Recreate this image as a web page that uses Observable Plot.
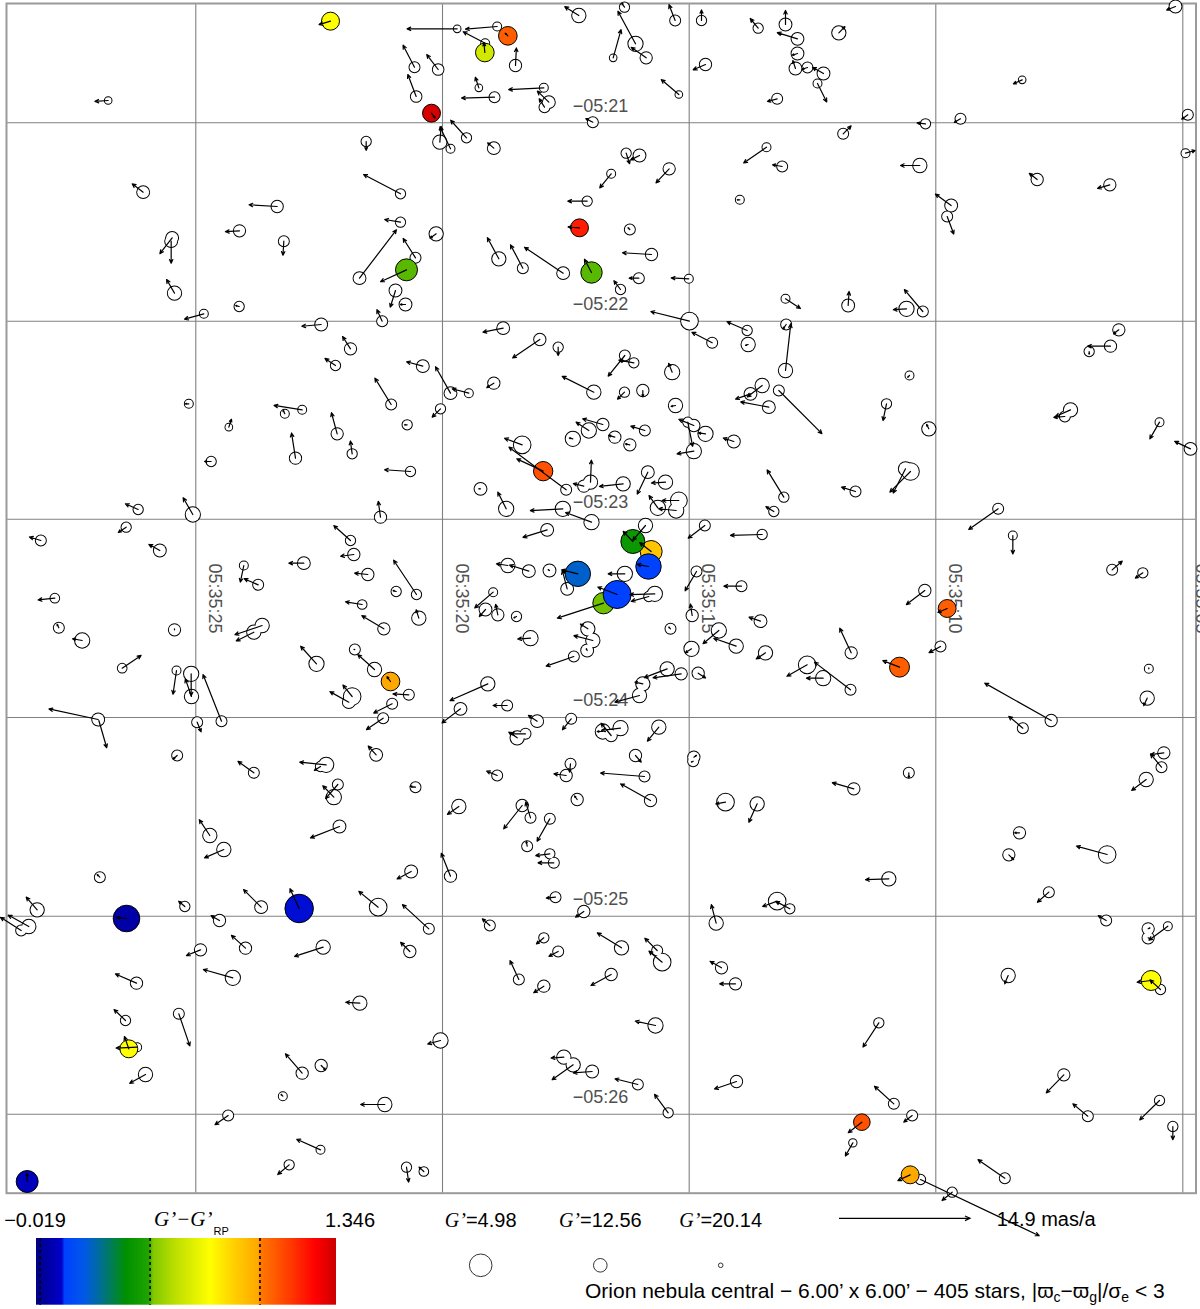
<!DOCTYPE html>
<html><head><meta charset="utf-8">
<script src="https://cdn.jsdelivr.net/npm/d3@7"></script>
<script src="https://cdn.jsdelivr.net/npm/@observablehq/plot@0.6"></script>
<style>
html,body{margin:0;padding:0;background:#fff;overflow:hidden;}
#wrap{position:relative;width:1200px;height:1309px;font-family:"Liberation Sans",Arial,sans-serif;}
#chart{position:absolute;left:0;top:0;z-index:2;}
#chart svg{display:block;}
#legend{position:absolute;left:0;top:1195px;z-index:1;}
</style></head><body>
<div id="wrap"><div id="chart"></div><svg id="legend" width="1200" height="114"></svg></div>
<script>
// Grid: offsets (arcsec from field centre) of RA / Dec lines, and their labels
const raGrid = [-121.41, -47.4, 26.61, 100.59, 174.69];
const raLabels = ["05:35:25", "05:35:20", "05:35:15", "05:35:10", "05:35:05"];
const decGrid = [142.71, 83.19, 23.79, -35.7, -95.31, -154.71];
const decLabels = ["−05:21", "−05:22", "−05:23", "−05:24", "−05:25", "−05:26"];

// Stars without colour: [xi (arcsec), eta (arcsec), pmRA (mas/a), pmDec (mas/a), G']
const whiteStars = [
[-147.7,149.4,-1.5,-0.1,18.4],[-70.3,137.1,0,-1.0,16.2],[-60,121.4,-4.2,2.2,16.2],[-60,112.9,-1.8,0.3,16.2],
[-72.3,96.1,4.2,5.5,14],[-61.5,92.4,-0.6,-1.9,14],[-65.5,83.2,-0.6,1.3,15.6],[-83.8,82.2,-2.2,-0.2,14],
[-75,74.9,-0.9,1.4,14.5],[-79.5,69.9,-1.2,0.8,16.2],[-97,117.6,-3.2,0.2,14.5],[-108.3,110.3,-1.6,-0.1,14.5],
[-95,107.2,-0.1,-1.6,15.6],[-128.5,108.2,-1.4,-1.8,14],[-128.8,107.2,0,-2.5,14],[-137.2,121.9,-1.25,0.95,14],
[-127.8,91.6,-0.9,1.55,12.8],[-119,85.4,-2.2,-0.6,17.3],[-108.4,87.6,-0.4,0.1,16.2],
[-43,170.9,-5.7,0,18.4],[-31,171.6,-3.6,-0.3,17.3],[-34.6,166.6,-2.5,1.3,17.3],[-6.5,174.9,-1.6,1.0,12.8],
[7.2,177.4,-0.3,0.45,16.2],[10.5,166.4,-2.0,3.7,12],[3.8,162.2,0.9,3.2,18.4],[13.7,162.2,-1.7,1.2,14.5],
[22.4,173.4,-0.7,1.8,15.6],[30.3,173.4,0,1.2,16.2],[47.3,171.1,-0.9,1.1,16.2],[55.5,172.2,0,1.6,14],
[59.1,167.9,-2.3,0.7,14],[59.1,163.5,-0.6,-0.2,14],[58.5,159,-0.3,0.9,14],[62.1,159.3,-0.6,-0.2,15.6],
[66.9,157.5,-1.25,0.7,14],[65.1,154.5,1.05,-2.1,17.3],[53,149.9,-1.1,-0.3,15.6],[23.5,151.2,-2.0,1.7,18.4],
[-17,153.2,-4.0,-0.2,17.3],[-15.5,148.9,-1.3,1.25,14],[-16.8,147.4,-0.6,0.95,15.6],[-25.5,159.9,0.1,2.0,14.5],
[-36.5,153.2,-0.4,1.2,18.4],[-31.8,150.4,-3.75,-0.1,15.6],[-55.8,159.4,-1.3,2.5,15.6],[-48.7,158.7,-1.3,1.7,15.1],
[-55.3,150.6,-0.95,2.5,15.1],[-48.2,136.9,0.15,1.8,12.8],[-45,134.9,-1.2,2.5,17.3],[-40.2,138.2,-1.8,2.0,16.2],
[-32,135.1,-0.7,0.6,14],[-2.3,142.9,-0.8,0.4,15.6],[7.7,133.6,0.4,-1.2,16.2],[11.7,132.9,-1.0,-0.5,14],
[3.2,127.4,-1.3,-1.6,17.3],[20.6,128.9,-1.5,-1.6,14.5],[-4,119.2,-2.2,0,16.2],[8.8,110.7,-0.2,0.2,15.6],
[15.3,103.2,-3.3,0.2,14.5],[11.5,96.1,-1.1,0,15.6],[26.5,95.9,-2.0,0.1,17.3],[49.8,135.4,-2.6,-1.8,17.3],
[54.5,129.6,-1.1,0.2,15.6],[41.8,119.6,-0.3,0,17.3],[55.5,89.9,1.7,-1.1,17.3],[-49.3,109.4,-0.7,-0.5,12.8],
[-55.5,102.2,-1.4,2.2,15.6],[-58.5,88.2,-0.6,0,14],[-30.5,101.9,-1.3,2.4,12.8],[-23.3,99.1,-1.4,2.65,15.6],
[-11.2,97.6,-4.4,2.95,14],[6,92.7,-0.75,1.0,16.2],[26.7,83.2,-4.4,1.1,10],[-29.2,81.1,-2.3,-0.45,14],
[-18.2,77.7,-3.1,-2.1,14.5],[-12.7,75.4,0,-0.95,16.2],[-53.3,69.7,-1.85,0.5,14],[-45,61.6,-1.7,3.0,14],
[-39.5,61.6,-1.9,0.5,17.3],[-32,64.6,-0.8,-0.5,14.5],[7.3,72.9,-1.9,-2.35,15.6],[10,70.7,-1.7,0.3,16.2],
[21.5,67.9,-0.4,1.0,12],[44,80.4,-2.3,1.0,16.2],[33.5,76.7,-2.3,1.2,15.6],[44.3,76.2,-0.3,-0.1,12.8],
[55.5,68.4,0.6,5.3,12.8],[55.7,82.2,-0.35,-0.5,15.6],[-2,61.9,-3.6,1.8,12.8],[7.2,61.9,-0.8,-0.8,16.2],
[12.7,62.4,0,-0.7,14.5],[48.5,63.9,-1.7,-1.3,12.8],[45,61.4,-1.7,-0.6,14],[53.5,62.4,4.9,-4.9,15.6],
[31.5,160.2,-1.4,-0.6,14.5],
[71.5,169.7,0.7,0.7,12.8],[126.5,155.6,-1.0,-0.45,18.4],[172.5,177.6,-1.0,-0.4,14],[108,143.9,-0.7,-0.4,15.6],
[97.5,142.4,-0.95,0.1,16.2],[176.2,145.1,-0.7,-0.5,15.6],[72.8,139.4,0.9,0.9,15.6],[175.5,133.6,1.1,0.3,17.3],
[95.8,129.9,-2.2,0,12.8],[131,125.7,-0.9,0.7,14.5],[152.8,124.1,-1.4,-0.4,14.5],[105.2,117.9,-1.8,1.3,14],
[104,114.6,0.75,-2.0,15.6],[74.3,87.9,0.1,1.6,14],[91.8,86.9,-1.5,-0.1,12],[96.7,86.1,-2.1,2.5,15.6],
[155.5,80.6,-0.6,-0.45,14.5],[153,75.7,-2.6,0,14.5],[146.6,74.1,0,-0.3,16.2],[92.7,66.9,-0.2,-0.2,17.3],
[-123.5,58.4,-0.4,0,17.3],[-89.5,56.6,-3.2,0.5,17.3],[-94.7,55.4,-0.2,0.4,17.3],[-62.8,58.2,-1.85,3.0,15.6],
[-111.5,51.4,0.3,0.9,18.4],[-79,49.4,-0.65,2.4,14.5],[-91.5,42.1,-0.45,2.85,14.5],[-74.5,43.4,-0.2,1.45,16.2],
[-116.8,41.1,-0.75,0,16.2],[-138.7,26.7,-1.45,0.65,16.2],[-122.3,25.2,-1.1,1.9,12],[-66,24.4,-0.25,1.8,14.5],
[-142.3,21.4,-0.9,-0.6,16.2],[-167.9,17.4,-1.3,0.4,15.6],[-132.2,14.4,-1.25,0.7,14],[-75,17.4,-1.9,1.7,16.2],
[-74,13.2,-1.5,-0.2,14.5],[-89,10.6,-1.7,0,14],[-69.8,7.2,-1.5,0.15,14.5],[-61.3,2.1,-0.35,0.1,16.2],
[-107,9.9,-0.4,-1.9,17.3],[-102.7,4.1,-1.6,0.7,15.6],[-163.7,0.1,-1.9,-0.2,16.7],[-71.5,-1.8,-1.9,0.3,16.7],
[-65,-9.1,-2.5,1.5,14.5],[-162.5,-8.8,-0.2,0.4,15.6],[-155.5,-12.6,-1.1,0.2,12],[-127.8,-9.4,0,0.1,14.5],
[-101.5,-8.1,-3.1,-1.05,12.8],[-104,-10.1,-2.0,-1.0,12.8],[-143.5,-20.9,2.15,1.45,16.7],[-127.2,-21.6,-0.4,-2.7,17.3],
[-122.8,-22.6,0,-2.5,12],[-122.7,-29.4,-0.7,2.0,12.8],[-113.7,-36.8,-2.1,5.3,15.6],[-150.7,-36.3,-5.6,1.2,14],
[-150.5,-36.6,0.9,-3.1,16.2],[-121,-37.1,0.45,-1.1,15.6],[-85.2,-19.6,-1.8,2.0,12],[-73.7,-15.3,-0.1,0,15.6],
[-67.8,-21.3,-1.9,1.7,12.8],[-74.5,-29.4,-1.05,1.3,10],[-75.5,-31.1,-2.15,1.2,14],[-62.5,-31.6,-2.1,-1.05,15.6],
[-65.2,-35.9,-1.9,-1.3,15.6],[-127,-47.1,-0.45,-0.4,15.6],[-104,-52.3,-1.8,1.3,15.6],[-82.3,-49.9,-3.0,0.3,12],
[-84,-50.4,-0.7,-0.45,16.2],[-67.3,-46.9,-0.9,1.0,14],[-78.8,-55.8,-1.4,-1.6,15.6],[-80,-59.6,-1.25,1.3,12],
[-48,56.9,-0.95,-0.95,16.2],[-58,52.1,-0.3,0,16.2],[-57,38.1,-2.95,0.2,16.2],[-55.2,1.2,-2.6,3.9,16.2],
[-54.5,-5.9,-0.3,0.95,12.8],[-57.5,-28.9,-1.8,0.1,15.6],[-55.5,-56.6,-0.6,0.1,15.6],[22.5,57.9,-0.5,-0.1,12.8],
[50.5,57.4,-3.2,0.6,14],[-23.5,46.1,-2.0,0.75,10],[-10.3,32.6,-6.5,4.85,15.6],[-36,32.9,-0.2,0,14],
[-28.3,26.9,-0.95,1.9,12],[-11.3,26.9,-3.7,-0.2,12],[-2.7,22.9,-2.95,1.1,12],[-16,20.6,-2.75,-0.85,14],
[-8.3,47.9,-0.4,0.1,12],[-3.5,50.4,-1.45,0.95,12],[0.7,52.2,-2.3,0.65,14.5],[4.3,48.4,-0.7,0.2,14.5],
[8.8,46.1,-0.5,0.1,14.5],[13.3,50.4,-1.6,0.5,15.6],[-3,34.9,0.1,2.5,12.8],[-5,33.7,-1.2,0.3,14.5],
[6.8,34.4,-2.7,-0.3,12.8],[14.2,37.9,-1.2,-2.5,14],[19.5,34.9,-1.6,-0.1,12.8],[23.5,29.4,-1.9,0,10.6],
[22.7,26.4,-2.0,0.2,12],[17.2,27.2,-1.0,1.4,12],[28,51.9,-1.7,0.7,14.5],[31.5,49.4,-0.8,0.1,12],
[28,44.2,-1.9,-0.3,12],[26.2,52.9,0.55,-2.75,16.2],[40,47.1,-1.2,0.4,14],[55,30.4,-1.9,3.1,16.2],
[52,26.1,-0.9,0.55,16.2],[31.3,21.9,-1.9,-1.45,15.6],[48.5,19.2,-3.6,-0.1,16.2],[13.5,21.9,-1.45,-1.7,12.8],
[-15.3,8.4,-0.15,0.1,14],[-21.5,8.2,-2.2,0.7,14],[-27.8,9.9,-1.3,0.2,12.8],[-10,2.9,-0.55,2.1,14],
[7.3,7.4,-1.9,0,12],[16.3,1.4,-2.85,-0.1,12],[14.5,0.6,-2.0,-0.55,16.2],[28.8,8.1,-1.3,-2.2,15.6],
[42.3,3.7,-2.0,0,15.6],[-32.2,1.9,-2.1,-1.8,17.3],[-34.5,-3.3,-0.7,-0.8,14],[-30.8,-4.9,-0.25,1.2,14.5],
[-25.2,-5.4,-0.3,-0.15,16.2],[-21,-11.9,-1.45,-0.1,12],[-8,-17.4,-3.15,-1.1,15.6],[-3.8,-9.1,-0.85,0.55,12.8],
[-2.3,-12.6,-2.15,0.55,12.8],[-4,-15.6,-0.1,0.2,14],[21,-9.1,-0.2,0.2,15.6],[27.5,-5.1,-0.2,1.3,14.5],
[35.5,-9.6,-1.8,-1.5,12],[40.7,-14.3,-2.55,0.9,12.8],[48,-6.8,-1.3,0.45,14],[27.3,-15.1,-0.7,-0.45,12],
[49.5,-16.3,-1.05,-0.7,12.8],[20,-21.1,-2.6,-1.0,12.8],[24.2,-22.6,-3.2,-0.45,14.5],[29.3,-22.4,0.85,-0.55,14.5],
[12.7,-25.6,-0.9,0.2,12.8],[11.7,-29.1,-2.8,-0.75,12.8],[-33.8,-25.6,-4.3,-1.9,12.8],[-42,-33.1,-2.1,-1.6,14],
[-28,-32.1,-1.6,0,15.6],[-19,-36.8,-1.0,0.65,14],[-8.8,-36.1,-1.0,-1.25,15.6],[0.7,-39.9,-0.65,0,12],
[6,-38.9,-2.15,-0.25,12],[3.2,-41.1,-1.15,1.4,14.5],[17.5,-38.6,-1.3,-1.6,12.8],[-25,-41.8,-0.95,0.65,12.8],
[-22.5,-40.6,-1.7,0,15.6],[10.5,-47.1,0.65,-0.75,14.5],[28,-47.6,0.3,0.2,14.5],[27.8,-48.8,-0.2,-0.1,15.6],
[-9,-49.6,-0.1,-0.95,15.6],[-10.3,-53.1,-1.4,0.2,14.5],[-31,-53.1,-1.2,0.5,15.6],[13.2,-53.4,-5.0,0.4,15.6],
[85.8,58.4,-0.4,-1.9,16.2],[98.5,50.9,-0.25,0.5,12.8],[141,56.6,-1.7,-0.75,12.8],[139.3,54.6,-1.25,-0.1,15.6],
[167.7,52.9,-1.1,-1.9,17.3],[177,44.9,-1.8,0.85,14],[93,38.1,-2.35,-2.35,10],[91.5,38.9,-1.4,-2.75,12.8],
[76.5,32.1,-1.6,0.5,15.6],[119.3,26.9,-3.35,-2.35,15.6],[123.7,18.9,0,-2.1,17.3],[153.5,8.6,1.15,1.0,15.6],
[162.7,7.7,-0.85,-0.6,16.2],[97.3,2.4,-2.1,-1.6,14.5],[102,-14.4,-1.3,-0.7,15.6],[75.2,-16.3,-1.3,2.8,14.5],
[62,-19.9,-2.3,-1.3,10],[66.8,-23.9,-1.9,0,12],[75,-27.4,-4.1,3.15,15.6],[164.5,-21.1,0,0.1,17.3],
[164,-29.9,-0.4,-0.85,12.8],[135.2,-36.6,-7.55,4.25,14.5],[126.7,-38.9,-1.6,1.35,15.6],[92.5,-52.3,0,-0.55,15.6],
[76,-57.1,-2.45,0.7,14.5],[169,-46.3,-1.5,-0.2,14.5],[168.3,-50.6,-1.25,1.5,15.6],[163.7,-54.3,-1.65,-1.25,12.8],
[-78.3,-68.4,-3.3,-1.3,14],[-117.2,-71.1,-1.2,1.8,12.8],[-113,-75.3,-2.2,-0.95,12.8],[-150.2,-83.6,-0.3,0.3,15.6],
[-169,-93.4,-1.25,1.45,12.8],[-171.5,-98.4,-2.35,1.3,12.8],[-173.8,-99.6,-2.35,1.5,15.6],[-124.7,-92.4,-0.7,0.6,16.2],
[-101.8,-92.6,-2.0,2.0,14],[-66.7,-92.6,-2.2,1.8,10],[-114.3,-96.6,-0.95,0.55,14.5],[-106.5,-104.9,-1.6,1.45,14.5],
[-120,-105.4,-1.6,-0.65,14.5],[-83.2,-104.6,-3.25,-1.05,12.8],[-139.2,-115.4,-2.4,1.05,14.5],[-110.3,-113.8,-3.35,0.95,12],
[-72.2,-121.4,-1.6,0.1,12.8],[-142.5,-126.6,-1.3,1.25,16.2],[-126.5,-124.6,1.25,-3.65,15.6],[-139,-134.6,-2.4,-0.1,17.3],
[-136.5,-142.8,-1.8,-1.0,12.8],[-89.5,-142.4,-1.9,2.2,14.5],[-83.8,-140.1,0.5,-0.5,14.5],[-95.3,-149.3,-0.2,0.2,17.3],
[-64.7,-151.8,-2.75,0,12.8],[-111.7,-155.1,-1.5,-1.05,15.6],[-84,-165.4,-2.7,1.2,17.3],[-93.4,-169.9,-1.3,-1.1,16.2],
[-42.5,-62.4,-1.3,-0.9,12.8],[-23.5,-62.1,-2.1,-2.65,14.5],[-21,-65.8,-0.55,1.8,15.6],[-15.2,-66.1,-1.45,-2.55,15.6],
[-7,-60.3,-0.3,0.4,14.5],[15,-60.6,-3.4,1.9,14.5],[37.5,-61.1,-1.1,-0.2,10],[47,-61.6,-0.95,-2.1,12.8],
[-22,-74.3,-0.1,0.55,15.6],[-15.2,-76.6,-1.6,-0.2,16.2],[-14,-79.3,-1.8,0,15.6],[-56.8,-81.9,-1.6,-0.85,14],
[-45,-83.3,-1.05,2.6,14.5],[-13.5,-89.6,-1.05,-0.1,15.6],[-5,-93.9,-0.95,-0.65,14.5],[-51.5,-99.1,-3.0,2.75,15.6],
[-33.2,-98.1,-0.85,0.75,15.6],[-57.2,-105.9,-1.05,1.05,14.5],[-17,-101.8,-0.85,-0.7,16.2],[-12.7,-105.9,-1.05,-0.55,15.6],
[6.3,-104.8,-2.75,1.7,12.8],[17,-105.6,-1.4,1.4,15.6],[18.5,-109.1,-1.5,1.25,10],[-24.5,-114.3,-1.0,2.15,15.6],
[-17,-116.3,-1.15,-0.75,14.5],[3.2,-112.8,-2.3,-1.25,14.5],[34.7,-97.4,-0.55,2.1,12.8],[53,-90.8,-1.65,-0.6,10],
[56.8,-93.1,-1.6,0.85,16.2],[36.3,-110.8,-1.3,0.75,14.5],[40.5,-115.6,-1.8,0,14.5],[16.5,-128.1,-2.3,0.5,12],
[-48,-132.6,-1.45,-0.4,12],[-11,-137.6,-1.45,-0.1,12.8],[-8.2,-139.9,-2.4,-1.7,12.8],[-2.5,-141.9,-2.15,-0.15,14],
[11.2,-145.8,-2.6,0.65,15.6],[20.3,-154.3,-1.55,2.1,16.2],[40.8,-144.9,-2.5,-0.85,14.5],[-58.2,-170.6,0.25,-1.7,16.2],
[-53,-171.9,-0.55,0.5,16.7],
[125.7,-70.3,-0.55,0,14.5],[122.5,-76.9,0.55,-0.55,14.5],[152,-76.8,-3.5,0.95,10],[86.5,-84.1,-2.65,-0.1,12.8],
[134.5,-88.1,-1.3,-1.15,15.6],[151.7,-96.6,-0.9,0.55,15.6],[170.2,-98.3,-2.15,-1.6,17.3],[164.3,-99.1,0.2,0.1,14.5],
[164.3,-101.8,0.2,-0.1,14.5],[122.3,-113.1,-0.4,-0.95,12.8],[168,-117.3,-1.2,1.1,16.2],[83.5,-127.3,-1.8,-2.75,16.2],
[139,-142.9,-2.0,-2.05,14.5],[88,-151.6,-2.2,2.0,15.6],[93.5,-155.1,-0.95,-0.75,15.6],[146.2,-155.3,-1.7,1.4,15.6],
[167.7,-150.6,-2.25,-2.2,16.2],[171.7,-158.4,0,-1.5,16.2],[75.7,-163.3,-0.85,-1.5,17.8],[121.3,-173.9,-3.05,2.1,15.6],
[96,-174.3,13.5,-6.4,16.2],[105.5,-178.1,-1.15,-0.95,16.2]
];

// Stars with a measured colour: [xi, eta, pmRA, pmDec, G', G'-G'RP]
const colouredStars = [
[-81,173.2,-1.3,-0.4,8.85,0.773],[-27.8,168.8,-0.3,0.3,8.3,1.06],[-34.7,163.8,-0.1,1.1,8.3,0.664],
[-50.7,145.6,0.4,-0.55,8.9,1.33],[-6.3,111.2,-1.3,0.1,8.9,1.196],[-58.2,98.6,-2.95,-1.35,5.5,0.505],
[-2.7,97.8,-0.8,1.5,6.0,0.505],[-17.2,38.2,-3.0,1.4,7.7,1.087],[9.7,17.1,-1.1,1.15,3.8,0.43],
[15.2,14.1,-1.3,1.0,5.5,0.91],[14.4,9.6,-1.3,0.25,2.6,0.118],[-6.8,7.4,-1.85,0.45,2.6,0.227],
[5,1.2,-2.2,0.85,0.4,0.111],[0.9,-1.4,-5.25,-1.7,6.0,0.51],[-63,-24.9,-0.4,0.55,8.3,0.99],
[104,-3,-1.05,-0.45,8.9,1.06],[89.7,-20.6,-1.9,0.75,7.2,1.06],[-142.2,-96,-1.15,0.1,1.6,0.036],
[-90.4,-93,-1.05,2.25,0.0,0.1],[-141.5,-135.1,-0.5,1.4,8.9,0.773],[-172,-174.9,0,0.95,5.5,0.077],
[165.2,-114.6,-1.6,-0.2,7.2,0.773],[78.4,-157.1,-1.55,-1.2,10.0,1.087],[92.9,-172.9,-1.4,-0.65,8.9,0.99]
];

// Legend values
const colourRange = [-0.019, 1.346];
const colourTicks = [0, 0.5, 1.0];
const sizeLegend = [4.98, 12.56, 20.14];
const pmLegend = 14.9;
const starCount = 405;

// colour ramp (fraction of the colour range -> colour)
const rampT = [0, 0.085, 0.095, 0.16, 0.22, 0.30, 0.375, 0.39, 0.47, 0.58, 0.66, 0.74, 0.75, 0.85, 0.93, 1.0];
const rampC = ["#000088","#0000c8","#0040ff","#0058e8","#00708c","#009000","#20a400","#80c800","#c0e000","#ffff00","#ffd000","#ffa800","#ff7800","#ff3800","#ff0000","#cc0000"];
const ramp = d3.scaleLinear().domain(rampT).range(rampC).interpolate(d3.interpolateRgb).clamp(true);

const k = 2.637; // arcsec drawn per mas/a

const W = whiteStars.map(([x, y, pmx, pmy, g]) => ({x, y, pmx, pmy, g}));
const C = colouredStars.map(([x, y, pmx, pmy, g, c]) => ({x, y, pmx, pmy, g, c}));
const ALL = W.concat(C);

const chart = Plot.plot({
  width: 1200, height: 1195,
  marginLeft: 6, marginRight: 4.5, marginTop: 3, marginBottom: 2.3,
  x: {domain: [-178.2, 178.65], axis: null},
  y: {domain: [-178.41, 178.5], axis: null},
  r: {type: "linear", domain: [20.14, 4.98], range: [2.3, 11.3]},
  color: {type: "linear", domain: colourRange, interpolate: (t) => ramp(t)},
  style: {overflow: "visible", background: "transparent", fontFamily: "Liberation Sans, Arial, sans-serif"},
  marks: [
    Plot.ruleX(raGrid, {x: (d) => d, stroke: "#808080", strokeWidth: 1.1}),
    Plot.ruleY(decGrid, {y: (d) => d, stroke: "#808080", strokeWidth: 1.1}),
    Plot.frame({stroke: "#9a9a9a", strokeWidth: 2}),
    Plot.text(raGrid, {x: (d) => d, y: 0, text: (d, i) => raLabels[i], rotate: 90, dx: 19, fontSize: 18, fill: "#505050"}),
    Plot.text(decGrid, {x: 0, y: (d) => d, text: (d, i) => decLabels[i], dy: -17, fontSize: 18, fill: "#505050"}),
    Plot.dot(W, {x: "x", y: "y", r: "g", stroke: "black", strokeWidth: 2, fill: "none"}),
    Plot.dot(W, {x: "x", y: "y", r: "g", fill: "white"}),
    Plot.dot(C, {x: "x", y: "y", r: "g", fill: "c", stroke: "black", strokeWidth: 1}),
    Plot.arrow(ALL, {x1: "x", y1: "y", x2: (d) => d.x + d.pmx * k, y2: (d) => d.y + d.pmy * k,
      stroke: "black", strokeWidth: 1.2, headLength: 5, headAngle: 50})
  ]
});
document.getElementById("chart").appendChild(chart);

// ---------- Legend ----------
const xs = chart.scale("x"), rs = chart.scale("r");
const L = d3.select("#legend");
const sans = "Liberation Sans, Arial, sans-serif";
const serif = "Liberation Serif, Times New Roman, serif";
const bx0 = 36, bx1 = 336, by0 = 43, by1 = 109.7;
const grad = L.append("defs").append("linearGradient").attr("id", "cbar");
d3.range(0, 1.0001, 0.0025).forEach((t) => grad.append("stop").attr("offset", t).attr("stop-color", ramp(t)));
L.append("rect").attr("x", bx0).attr("y", by0).attr("width", bx1 - bx0).attr("height", by1 - by0).attr("fill", "url(#cbar)");
const cx = d3.scaleLinear().domain(colourRange).range([bx0, bx1]);
colourTicks.forEach((v) => L.append("line").attr("x1", cx(v)).attr("x2", cx(v)).attr("y1", by0).attr("y2", by1)
  .attr("stroke", "black").attr("stroke-width", 1.6).attr("stroke-dasharray", "3,3"));
L.append("text").attr("x", 35).attr("y", 31.7).attr("text-anchor", "middle").attr("font-family", sans).attr("font-size", 20).text("−0.019");
L.append("text").attr("x", 350).attr("y", 31.7).attr("text-anchor", "middle").attr("font-family", sans).attr("font-size", 20).text("1.346");
L.append("text").attr("x", 154).attr("y", 30.7).attr("font-family", serif).attr("font-size", 21).attr("font-style", "italic").text("G’−G’");
L.append("text").attr("x", 213.5).attr("y", 39.5).attr("font-family", sans).attr("font-size", 11).text("RP");

// size legend
const sizeX = [480.7, 600.3, 720.7];
sizeLegend.forEach((g, i) => {
  const t = L.append("text").attr("x", sizeX[i]).attr("y", 31.7).attr("text-anchor", "middle").attr("font-size", 20);
  t.append("tspan").attr("font-family", serif).attr("font-style", "italic").text("G’");
  t.append("tspan").attr("font-family", sans).text("=" + g.toFixed(2));
  L.append("circle").attr("cx", sizeX[i]).attr("cy", 70.3).attr("r", rs.apply(g)).attr("fill", "white").attr("stroke", "#333").attr("stroke-width", 1);
});

// proper-motion legend arrow
const alen = xs.apply(pmLegend * k) - xs.apply(0);
const ax0 = 839, ay = 23.3, ax1 = ax0 + alen;
L.append("line").attr("x1", ax0).attr("x2", ax1).attr("y1", ay).attr("y2", ay).attr("stroke", "black").attr("stroke-width", 1.2);
L.append("path").attr("d", `M${ax1 - 5},${ay - 2.3}L${ax1},${ay}L${ax1 - 5},${ay + 2.3}`).attr("fill", "none").attr("stroke", "black").attr("stroke-width", 1.2);
L.append("text").attr("x", 996.7).attr("y", 30.7).attr("font-family", sans).attr("font-size", 20).text(pmLegend + " mas/a");

// caption
const cap = L.append("text").attr("x", 585).attr("y", 103.3).attr("font-family", sans).attr("font-size", 21);
cap.append("tspan").text("Orion nebula central − 6.00’ x 6.00’ − " + starCount + " stars, |ϖ");
cap.append("tspan").attr("font-size", 14).attr("dy", 4).text("c");
cap.append("tspan").attr("dy", -4).text("−ϖ");
cap.append("tspan").attr("font-size", 14).attr("dy", 4).text("g");
cap.append("tspan").attr("dy", -4).text("|/σ");
cap.append("tspan").attr("font-size", 14).attr("dy", 4).text("e");
cap.append("tspan").attr("dy", -4).text(" < 3");
</script></body></html>
